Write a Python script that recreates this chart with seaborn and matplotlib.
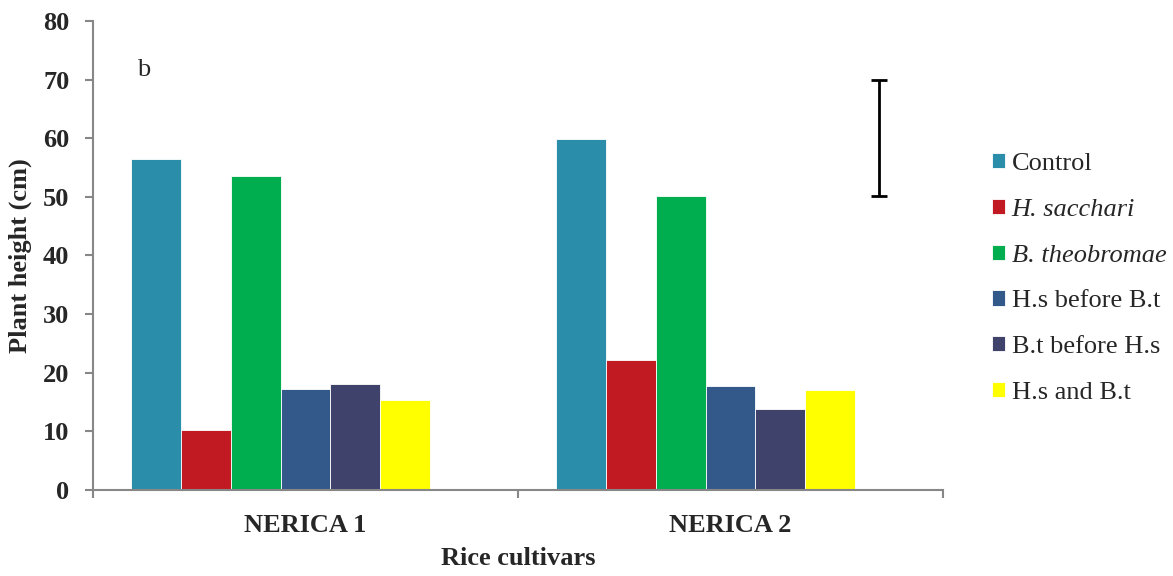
import numpy as np
import pandas as pd
import matplotlib
matplotlib.use("Agg")
import matplotlib.pyplot as plt
import seaborn as sns

# data
cultivars = ["NERICA 1", "NERICA 2"]
treatments = ["Control", "H. sacchari", "B. theobromae",
              "H.s before B.t", "B.t before H.s", "H.s and B.t"]
nerica1 = [56.5, 10.2, 53.6, 17.2, 18.1, 15.4]
nerica2 = [59.8, 22.1, 50.2, 17.7, 13.8, 17.1]
colors = ["#2A8EAB", "#C11A22", "#00AE4F", "#33598A", "#3F426B", "#FFFF00"]
err_low, err_high = 50.2, 70.0

df = pd.DataFrame({
    "cultivar": [cultivars[0]] * 6 + [cultivars[1]] * 6,
    "treatment": treatments * 2,
    "height": nerica1 + nerica2,
})

# the excel chart keeps an empty 7th slot (error bar series) in each group
blank = " "
hue_levels = treatments + [blank]
pal = dict(zip(treatments, colors))
pal[blank] = "white"

sns.set_style("white")
plt.rcParams["font.family"] = ["Liberation Serif", "DejaVu Serif"]

fig = plt.figure(figsize=(11.73, 5.76), dpi=100)
ax = fig.add_axes([93/1173, 86/576, 850/1173, 469/576])

sns.barplot(data=df, x="cultivar", y="height", hue="treatment",
            hue_order=hue_levels, palette=pal, width=0.8235,
            saturation=1, edgecolor="white", linewidth=0.6, ax=ax)

ax.set_xlim(-0.5, 1.5)
ax.set_ylim(0, 80)
ax.set_yticks(range(0, 81, 10))

# spines
for s in ["top", "right"]:
    ax.spines[s].set_visible(False)
for s in ["left", "bottom"]:
    ax.spines[s].set_color("#878787")
    ax.spines[s].set_linewidth(1.5)

ax.tick_params(axis="y", direction="out", length=6, width=1.5, color="#878787",
               pad=11, labelsize=19, left=True)
for t in ax.get_yticklabels():
    t.set_fontweight("bold")
ax.tick_params(axis="x", which="major", length=0, pad=17, labelsize=19)
for t in ax.get_xticklabels():
    t.set_fontweight("bold")
ax.set_xticks([-0.5, 0.5, 1.5], minor=True)
ax.tick_params(axis="x", which="minor", direction="out", length=6, width=1.5,
               color="#878787", bottom=True)

ax.set_ylabel("Plant height (cm)", fontsize=19, fontweight="bold")
ax.yaxis.set_label_coords(-0.072, 0.5)
ax.set_xlabel("Rice cultivars", fontsize=19, fontweight="bold")
ax.xaxis.set_label_coords(0.5, -0.122)

ax.text(0.052, 0.883, "b", transform=ax.transAxes, fontsize=19, va="baseline")

# standard error bar
ax.errorbar([1.35], [(err_low + err_high) / 2], yerr=[(err_high - err_low) / 2],
            color="black", linewidth=2, capsize=6, capthick=2)

handles, labels = ax.get_legend_handles_labels()
keep = [(h, l) for h, l in zip(handles, labels) if l in treatments]
leg = ax.legend([h for h, l in keep], [l for h, l in keep],
                loc="center left", bbox_to_anchor=(1.045, 0.451),
                frameon=False, fontsize=19, handlelength=0.5, handleheight=0.5,
                handletextpad=0.25, labelspacing=0.9, borderaxespad=0)
for t in leg.get_texts():
    if t.get_text() in ("H. sacchari", "B. theobromae"):
        t.set_fontstyle("italic")

fig.savefig("out.png", dpi=100)
